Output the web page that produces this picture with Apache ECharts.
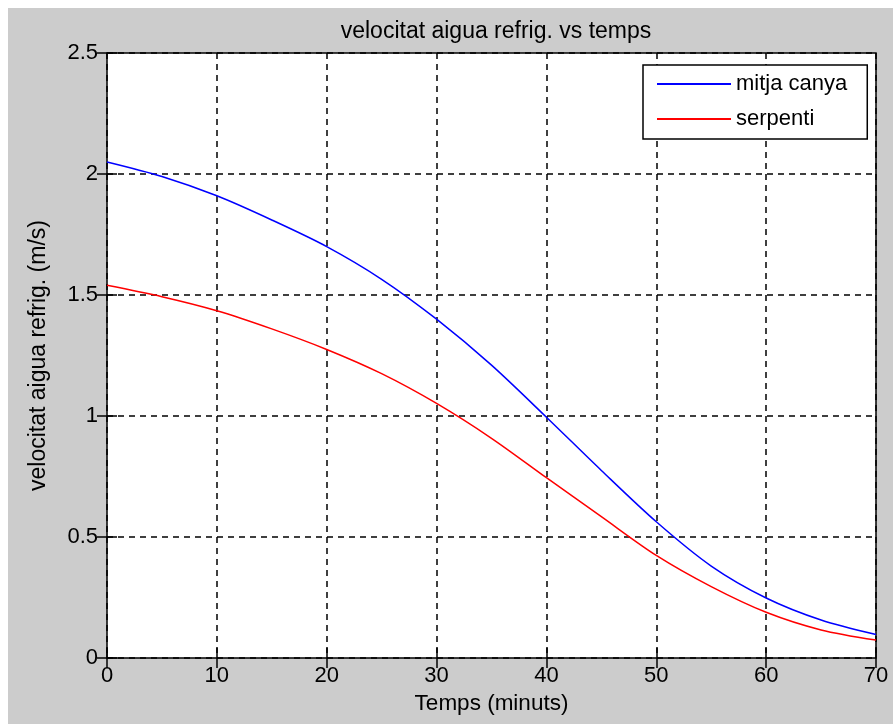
<!DOCTYPE html>
<html>
<head>
<meta charset="utf-8">
<script src="https://cdn.jsdelivr.net/npm/echarts@6/dist/echarts.min.js"></script>
<style>
html,body{margin:0;padding:0;background:#ffffff;}
#bg{position:absolute;left:8px;top:8px;width:885px;height:716px;background:#cccccc;}
#chart{position:absolute;left:0;top:0;width:893px;height:724px;}
</style>
</head>
<body>
<div id="bg"></div>
<div id="chart"></div>
<script>
var titleText = 'velocitat aigua refrig. vs temps';
var xName = 'Temps (minuts)';
var yName = 'velocitat aigua refrig. (m/s)';
var seriesNames = ['mitja canya', 'serpenti'];
var temps = [0, 5, 10, 15, 20, 25, 30, 35, 40, 45, 50, 55, 60, 65, 70];
var mitjaCanya = [2.05, 1.99, 1.91, 1.81, 1.70, 1.565, 1.40, 1.21, 0.995, 0.775, 0.563, 0.38, 0.248, 0.157, 0.097];
var serpenti = [1.54, 1.493, 1.435, 1.36, 1.275, 1.175, 1.052, 0.908, 0.745, 0.584, 0.424, 0.295, 0.189, 0.116, 0.074];
var xTicks = [0, 10, 20, 30, 40, 50, 60, 70];
var yTicks = [0, 0.5, 1, 1.5, 2, 2.5];

function pairs(xs, ys) { return xs.map(function (x, i) { return [x, ys[i]]; }); }

var font = 'Liberation Sans, Arial, sans-serif';
var chart = echarts.init(document.getElementById('chart'), null, {renderer: 'canvas'});
var gridLine = {show: true, lineStyle: {color: '#000', width: 1.5, type: [6, 5]}};
var tickIn = {show: true, inside: true, length: 10, lineStyle: {color: '#000', width: 1.5}};

chart.setOption({
  backgroundColor: 'transparent',
  animation: false,
  title: {
    text: titleText, left: 491, top: 15, textAlign: 'center',
    textStyle: {fontFamily: font, fontSize: 23, fontWeight: 'normal', color: '#000'}
  },
  legend: {
    orient: 'vertical', left: 643, top: 65,
    padding: [7, 20, 8, 14],
    itemWidth: 74, itemHeight: 2, itemGap: 11, icon: 'rect',
    backgroundColor: '#fff', borderColor: '#000', borderWidth: 1.5,
    textStyle: {fontFamily: font, fontSize: 22, color: '#000', lineHeight: 24},
    data: seriesNames
  },
  grid: {
    left: 107, right: 17, top: 53, bottom: 66,
    show: true, backgroundColor: '#fff', borderColor: '#000', borderWidth: 1.5
  },
  xAxis: [{
    type: 'value', min: xTicks[0], max: xTicks[xTicks.length - 1], interval: xTicks[1] - xTicks[0],
    name: xName, nameLocation: 'middle', nameGap: 31,
    nameTextStyle: {fontFamily: font, fontSize: 22.5, color: '#000'},
    axisLine: {show: false}, axisTick: tickIn,
    axisLabel: {fontFamily: font, fontSize: 22, color: '#000', margin: 7},
    splitLine: gridLine
  }, {
    type: 'value', position: 'top', min: xTicks[0], max: xTicks[xTicks.length - 1], interval: xTicks[1] - xTicks[0],
    axisLine: {show: false}, axisTick: tickIn, axisLabel: {show: false}, splitLine: {show: false}
  }],
  yAxis: [{
    type: 'value', min: yTicks[0], max: yTicks[yTicks.length - 1], interval: yTicks[1] - yTicks[0],
    name: yName, nameLocation: 'middle', nameGap: 57,
    nameTextStyle: {fontFamily: font, fontSize: 23, color: '#000'},
    axisLine: {show: false}, axisTick: tickIn,
    axisLabel: {fontFamily: font, fontSize: 22, color: '#000', margin: 9},
    splitLine: gridLine
  }, {
    type: 'value', position: 'right', min: yTicks[0], max: yTicks[yTicks.length - 1], interval: yTicks[1] - yTicks[0],
    axisLine: {show: false}, axisTick: tickIn, axisLabel: {show: false}, splitLine: {show: false}
  }],
  series: [{
    name: seriesNames[0], type: 'line', data: pairs(temps, mitjaCanya),
    smooth: 0.3, symbol: 'none', color: '#0000ff',
    lineStyle: {color: '#0000ff', width: 1.5}, z: 5
  }, {
    name: seriesNames[1], type: 'line', data: pairs(temps, serpenti),
    smooth: 0.3, symbol: 'none', color: '#ff0000',
    lineStyle: {color: '#ff0000', width: 1.5}, z: 5
  }]
});
</script>
</body>
</html>
